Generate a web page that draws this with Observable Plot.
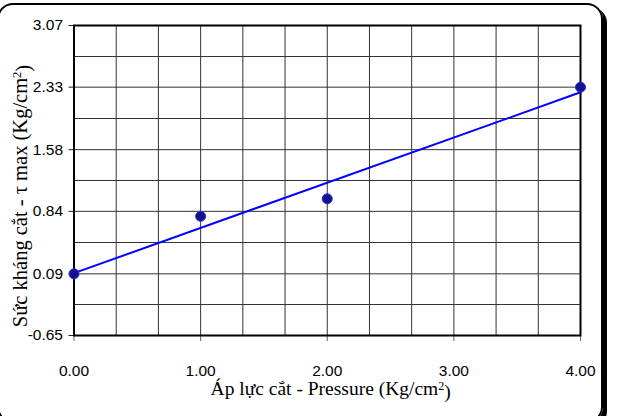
<!DOCTYPE html>
<html>
<head>
<meta charset="utf-8">
<script src="https://cdn.jsdelivr.net/npm/d3@7"></script>
<script src="https://cdn.jsdelivr.net/npm/@observablehq/plot@0.6"></script>
<style>
  html, body { margin: 0; padding: 0; background: #fff; overflow: hidden; }
  #wrap { position: relative; width: 617px; height: 416px; overflow: hidden; }
  #border {
    position: absolute; left: -3px; top: 3px; width: 606px; height: 420px;
    box-sizing: border-box; border: 2px solid #000; border-radius: 16px;
    box-shadow: 4px 4px 0 #000; pointer-events: none;
  }
  #chart { position: absolute; left: 0; top: 0; }
</style>
</head>
<body>
<div id="wrap">
  <div id="border"></div>
  <div id="chart"></div>
</div>
<script>
// Data
const pressure = [0, 1, 2, 4];                 // Kg/cm²
const shearStrength = [0.09, 0.78, 0.99, 2.33]; // τ max, Kg/cm²

const xTicks = [0, 1, 2, 3, 4];
const yTicks = [-0.65, 0.09, 0.84, 1.58, 2.33, 3.07];
const xGrid = [0.3333, 0.6667, 1, 1.3333, 1.6667, 2, 2.3333, 2.6667, 3, 3.3333, 3.6667];
const yGrid = [-0.278, 0.09, 0.466, 0.84, 1.21, 1.58, 1.954, 2.33, 2.698];

const xTitle = "Áp lực cắt - Pressure (Kg/cm";
const yTitle = "Sức kháng cắt - τ max (Kg/cm";
const sup = "2";
const titleEnd = ")";

const data = pressure.map((x, i) => ({x, y: shearStrength[i]}));

const marginLeft = 73.5, marginRight = 37, marginTop = 25, marginBottom = 81;
const W = 617, H = 416;

const chart = Plot.plot({
  width: W, height: H,
  marginLeft, marginRight, marginTop, marginBottom,
  style: {fontFamily: "'Liberation Sans', Arial, sans-serif", fontSize: "15.5px", color: "#000", background: "transparent"},
  x: {domain: [0, 4]},
  y: {domain: [-0.65, 3.07]},
  marks: [
    Plot.ruleX(xGrid, {stroke: "#333", strokeWidth: 1}),
    Plot.ruleY(yGrid, {stroke: "#333", strokeWidth: 1}),
    Plot.axisX({ticks: xTicks, tickFormat: d => d.toFixed(2), tickSize: 6, tickPadding: 23, label: null, stroke: "#666", fontSize: 15.5}),
    Plot.axisY({ticks: yTicks, tickFormat: d => d.toFixed(2), tickSize: 5, tickPadding: 6, label: null, stroke: "#222", fontSize: 15.5}),
    Plot.frame({stroke: "#000", strokeWidth: 2}),
    Plot.linearRegressionY(data, {x: "x", y: "y", stroke: "#0000ff", strokeWidth: 2, ci: 0}),
    Plot.dot(data, {x: "x", y: "y", r: 5, fill: "#12128f", stroke: "#2a2ae0", strokeWidth: 1})
  ]
});

document.getElementById("chart").append(chart);

const svg = d3.select(chart);
const serif = "'Liberation Serif', 'Times New Roman', serif";

function addTitle(g, main, supSize) {
  g.append("tspan").text(main);
  g.append("tspan").attr("dy", "-0.45em").attr("font-size", supSize).text(sup);
  g.append("tspan").attr("dy", "0.45em").text(titleEnd);
}

const xt = svg.append("text")
  .attr("x", 330.7)
  .attr("y", 395)
  .attr("text-anchor", "middle")
  .attr("font-family", serif)
  .attr("font-size", "19.5px")
  .attr("fill", "#000");
addTitle(xt, xTitle, "12px");

const yt = svg.append("text")
  .attr("transform", `translate(26.7,196) rotate(-90)`)
  .attr("text-anchor", "middle")
  .attr("font-family", serif)
  .attr("font-size", "20.5px")
  .attr("fill", "#000");
addTitle(yt, yTitle, "12.5px");
</script>
</body>
</html>
